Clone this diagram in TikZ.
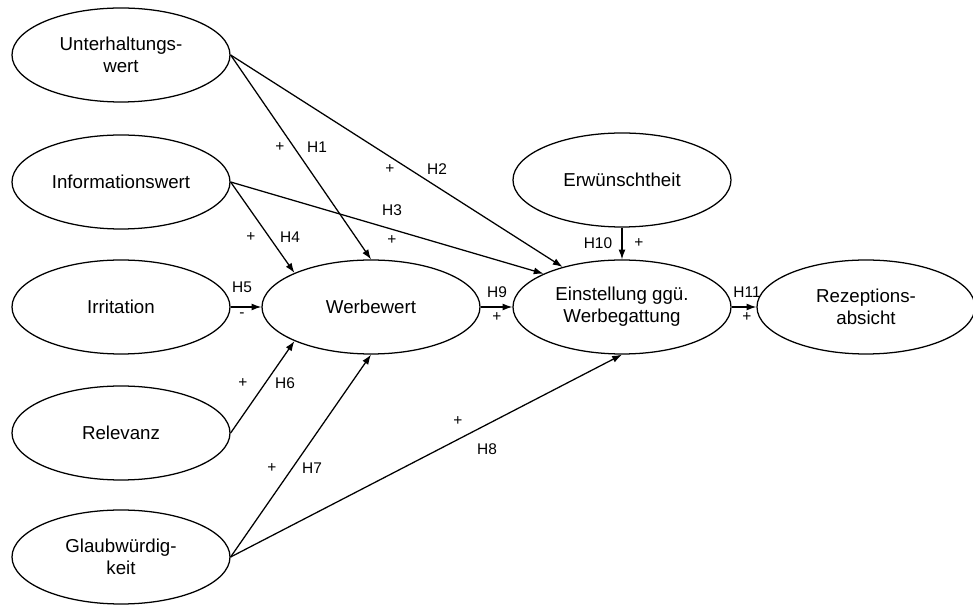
\documentclass[tikz,border=0pt]{standalone}
\usepackage{fontspec}
\setmainfont{Liberation Sans}
\usetikzlibrary{shapes.geometric,arrows.meta}

\begin{document}
\begin{tikzpicture}[
    >={Latex[length=7pt,width=5pt]},
    line width=0.9pt,
    konstrukt/.style={ellipse, draw, line width=0.9pt,
        minimum width=\w, minimum height=\h, inner sep=0pt,
        align=center, font=\fontsize{13.3}{15.6}\selectfont},
    hyp/.style={font=\fontsize{11}{13}\selectfont, inner sep=1pt}
]

% gemeinsame Groesse
\def\w{5.45cm}
\def\h{2.35cm}

\useasboundingbox (0,0) rectangle (24.325,15.125);

% linke Spalte
\node[konstrukt] (unt) at (3.025,13.75) {Unterhaltungs-\\wert};
\node[konstrukt] (inf) at (3.025,10.575) {Informationswert};
\node[konstrukt] (irr) at (3.025,7.45) {Irritation};
\node[konstrukt] (rel) at (3.025,4.3) {Relevanz};
\node[konstrukt] (gla) at (3.025,1.2) {Glaubwürdig-\\keit};

% mittlere Reihe
\node[konstrukt] (wer) at (9.275,7.45) {Werbewert};
\node[konstrukt] (ein) at (15.55,7.45) {Einstellung ggü.\\Werbegattung};
\node[konstrukt] (erw) at (15.55,10.625) {Erwünschtheit};
\node[konstrukt] (rez) at (21.65,7.45) {Rezeptions-\\absicht};

% Pfade
\draw[->] (unt.east) -- (wer.north);
\draw[->] (unt.east) -- (ein.146);
\draw[->] (inf.east) -- (ein.157);
\draw[->] (inf.east) -- (wer.156);
\draw[->] (irr.east) -- (wer.west);
\draw[->] (rel.east) -- (wer.204);
\draw[->] (gla.east) -- (wer.south);
\draw[->] (gla.east) -- (ein.south);
\draw[->] (wer.east) -- (ein.west);
\draw[->] (erw.south) -- (ein.north);
\draw[->] (ein.east) -- (rez.west);

% Hypothesen
\node[hyp] (h1p) at (7.0,11.45) {+};
\node[hyp] (h1) at (7.925,11.45) {H1};
\node[hyp] (h2p) at (9.75,10.9) {+};
\node[hyp] (h2) at (10.925,10.9) {H2};
\node[hyp] (h3) at (9.8,9.875) {H3};
\node[hyp] (h3p) at (9.8,9.125) {+};
\node[hyp] (h4p) at (6.275,9.2) {+};
\node[hyp] (h4) at (7.25,9.2) {H4};
\node[hyp] (h5) at (6.05,7.95) {H5};
\node[hyp] (h5m) at (6.05,7.25) {-};
\node[hyp] (h6p) at (6.075,5.55) {+};
\node[hyp] (h6) at (7.125,5.55) {H6};
\node[hyp] (h7p) at (6.8,3.425) {+};
\node[hyp] (h7) at (7.8,3.425) {H7};
\node[hyp] (h8p) at (11.45,4.6) {+};
\node[hyp] (h8) at (12.175,3.9) {H8};
\node[hyp] (h9) at (12.425,7.825) {H9};
\node[hyp] (h9p) at (12.425,7.2) {+};
\node[hyp] (h10) at (14.95,9.05) {H10};
\node[hyp] (h10p) at (15.975,9.05) {+};
\node[hyp] (h11) at (18.675,7.825) {H11};
\node[hyp] (h11p) at (18.675,7.2) {+};

\end{tikzpicture}
\end{document}
